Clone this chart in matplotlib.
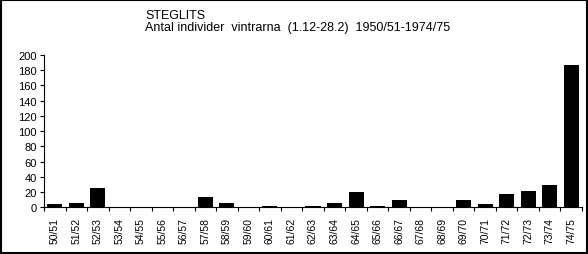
import matplotlib
matplotlib.use('Agg')
import matplotlib.pyplot as plt
from matplotlib.patches import Rectangle

plt.rcParams['font.family'] = ['Liberation Sans', 'DejaVu Sans']

# winter seasons 1950/51 - 1974/75
seasons = ['50/51', '51/52', '52/53', '53/54', '54/55', '55/56', '56/57', '57/58',
           '58/59', '59/60', '60/61', '61/62', '62/63', '63/64', '64/65', '65/66',
           '66/67', '67/68', '68/69', '69/70', '70/71', '71/72', '72/73', '73/74', '74/75']
counts = [4, 5, 25, 1, 0, 0, 0, 14, 5, 0, 2, 0, 2, 5, 20, 2, 9, 0, 1, 10, 4, 18, 21, 29, 187]
yticks = list(range(0, 201, 20))

fig = plt.figure(figsize=(5.88, 2.55), dpi=100)
ax = fig.add_axes([44/588, 1-208.3/255, 538/588, 152.3/255])

x = range(len(seasons))
ax.bar(x, counts, width=0.7, color='black')
ax.set_xlim(-0.5, len(seasons)-0.5)
ax.set_ylim(0, 200)
ax.set_yticks(yticks)
ax.tick_params(axis='y', labelsize=8, length=3, width=0.8, pad=2)

# category labels centred, tick marks on the boundaries
ax.set_xticks(list(x))
ax.set_xticklabels(seasons, rotation=90, fontsize=7.5)
ax.tick_params(axis='x', which='major', length=0, pad=7)
ax.set_xticks([i - 0.5 for i in range(len(seasons)+1)], minor=True)
ax.tick_params(axis='x', which='minor', length=3, width=0.8)

for s in ['top', 'right']:
    ax.spines[s].set_visible(False)
ax.spines['left'].set_linewidth(0.8)
ax.spines['bottom'].set_linewidth(0.8)

fig.text(145/588, 1-19.5/255, 'STEGLITS', fontsize=9)
fig.text(145/588, 1-30.5/255, 'Antal individer  vintrarna  (1.12-28.2)  1950/51-1974/75', fontsize=9)

# black frame round the whole chart
fig.patches.append(Rectangle((0.002, 0.004), 0.996, 0.992, transform=fig.transFigure,
                             fill=False, edgecolor='black', linewidth=1.5))

fig.savefig('out.png', dpi=100)
